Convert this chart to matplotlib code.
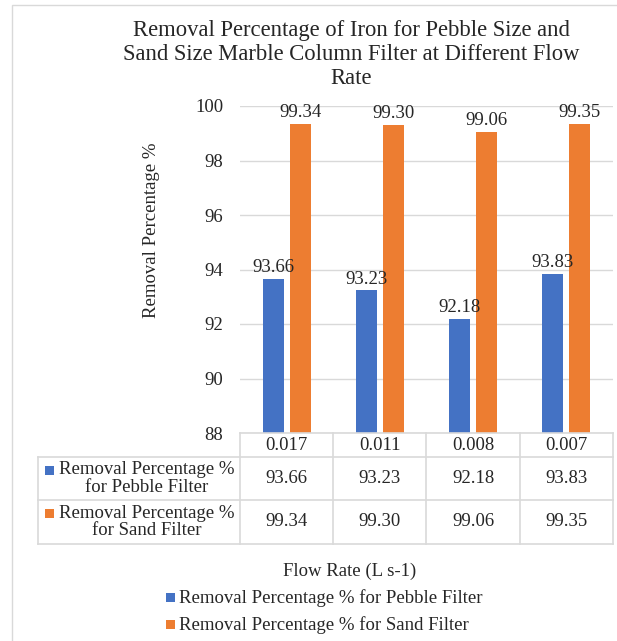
import matplotlib
matplotlib.use("Agg")
import matplotlib.pyplot as plt
from matplotlib.patches import Rectangle
from matplotlib.lines import Line2D

categories = ["0.017", "0.011", "0.008", "0.007"]
pebble = [93.66, 93.23, 92.18, 93.83]
sand = [99.34, 99.30, 99.06, 99.35]
series_names = ["Removal Percentage % for Pebble Filter", "Removal Percentage % for Sand Filter"]
row_labels = ["Removal Percentage %\nfor Pebble Filter", "Removal Percentage %\nfor Sand Filter"]
yticks = [88, 90, 92, 94, 96, 98, 100]

W, H = 617, 641
plt.rcParams['font.family'] = ['Liberation Serif', 'DejaVu Serif']
fig = plt.figure(figsize=(W / 100, H / 100), dpi=100)

def fx(px):
    return px / W

def fy(py):
    return 1 - py / H

BLUE = "#4472C4"
ORANGE = "#ED7D31"
GRID = "#d9d9d9"
TXT = "#262626"
FS = 13.5

# outer chart frame
fig.add_artist(Rectangle((fx(12), fy(700)), fx(620), 700 / H - 5 / H, transform=fig.transFigure,
                         fill=False, edgecolor="#d9d9d9", lw=1))

ax_l, ax_r, ax_t, ax_b = 240, 613, 106, 433
ax = fig.add_axes([fx(ax_l), fy(ax_b), fx(ax_r - ax_l), (ax_b - ax_t) / H])
ax.set_xlim(-0.5, len(categories) - 0.5)
ax.set_ylim(88, 100)
x = list(range(len(categories)))
bw = 0.225
off = 0.145
ax.bar([i - off for i in x], pebble, width=bw, color=BLUE, zorder=3)
ax.bar([i + off for i in x], sand, width=bw, color=ORANGE, zorder=3)
for i in x:
    ax.annotate(f"{pebble[i]:.2f}", (i - off, pebble[i]), xytext=(0, 2), textcoords="offset points",
                ha="center", va="bottom", fontsize=FS, color=TXT)
    ax.annotate(f"{sand[i]:.2f}", (i + off, sand[i]), xytext=(0, 2), textcoords="offset points",
                ha="center", va="bottom", fontsize=FS, color=TXT)
ax.set_yticks(yticks)
ax.set_yticklabels([str(t) for t in yticks], fontsize=FS, color=TXT)
ax.tick_params(axis="y", length=0, pad=12)
ax.set_xticks([])
ax.grid(axis="y", color=GRID, lw=1, zorder=0)
for s in ax.spines.values():
    s.set_visible(False)
ax.patch.set_alpha(0)

# title
fig.text(fx(351), fy(20), "Removal Percentage of Iron for Pebble Size and\nSand Size Marble Column Filter at Different Flow\nRate",
         ha="center", va="top", fontsize=16.3, color=TXT, linespacing=1.2)

# y label
fig.text(fx(151), fy(230), "Removal Percentage %", rotation=90, ha="center", va="center",
         fontsize=FS, color=TXT)

# data table
col_edges = [ax_l + (ax_r - ax_l) * k / len(categories) for k in range(len(categories) + 1)]
row_edges = [433, 457, 500, 544]
tleft = 38

def hline(y, x0, x1):
    fig.add_artist(Line2D([fx(x0), fx(x1)], [fy(y), fy(y)], transform=fig.transFigure, color=GRID, lw=1.2))

def vline(xp, y0, y1):
    fig.add_artist(Line2D([fx(xp), fx(xp)], [fy(y0), fy(y1)], transform=fig.transFigure, color=GRID, lw=1.2))

hline(row_edges[0], ax_l, ax_r)
for y in row_edges[1:]:
    hline(y, tleft, ax_r)
for xe in col_edges:
    vline(xe, row_edges[0], row_edges[-1])
vline(tleft, row_edges[1], row_edges[-1])

for j, c in enumerate(categories):
    cx = (col_edges[j] + col_edges[j + 1]) / 2
    fig.text(fx(cx), fy((row_edges[0] + row_edges[1]) / 2), c, ha="center", va="center", fontsize=FS, color=TXT)
    fig.text(fx(cx), fy((row_edges[1] + row_edges[2]) / 2), f"{pebble[j]:.2f}", ha="center", va="center",
             fontsize=FS, color=TXT)
    fig.text(fx(cx), fy((row_edges[2] + row_edges[3]) / 2), f"{sand[j]:.2f}", ha="center", va="center",
             fontsize=FS, color=TXT)

for r, (lab, col) in enumerate(zip(row_labels, [BLUE, ORANGE])):
    cy = (row_edges[r + 1] + row_edges[r + 2]) / 2
    fig.text(fx(147), fy(cy), lab, ha="center", va="center", fontsize=FS, color=TXT,
             multialignment="center", linespacing=1.0)
    fig.add_artist(Rectangle((fx(45), fy(cy - 4)), fx(9), 9 / H, transform=fig.transFigure,
                             color=col, lw=0))

# x label
fig.text(fx(350), fy(571), "Flow Rate (L s-1)", ha="center", va="center", fontsize=FS, color=TXT)

# legend
for k, (name, col) in enumerate(zip(series_names, [BLUE, ORANGE])):
    yy = 598 + 27 * k
    fig.add_artist(Rectangle((fx(166), fy(yy + 4)), fx(9), 9 / H, transform=fig.transFigure,
                             color=col, lw=0))
    fig.text(fx(179), fy(yy), name, ha="left", va="center", fontsize=FS, color=TXT)

fig.savefig("out.png", dpi=100)
